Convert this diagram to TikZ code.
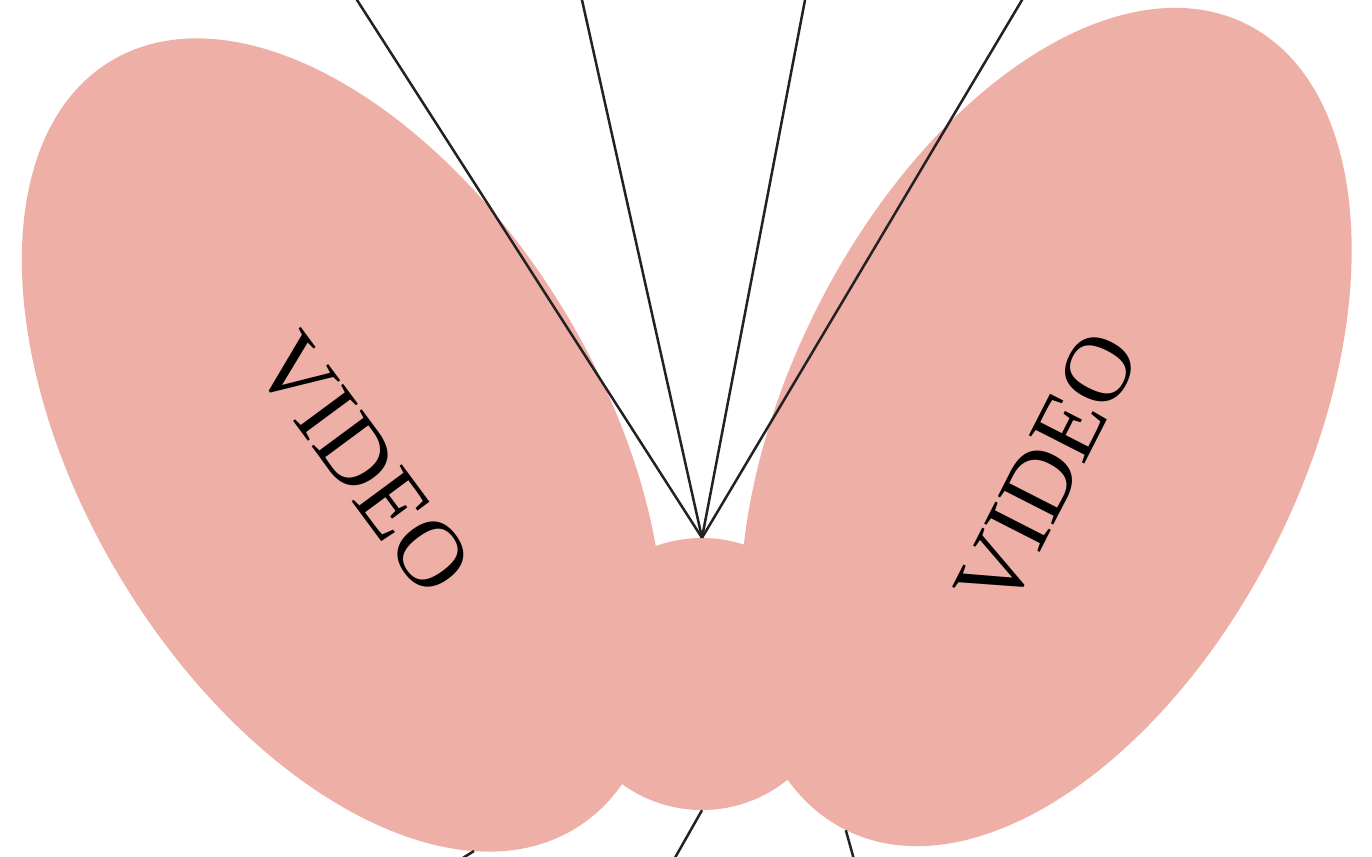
\documentclass[tikz,border=0pt]{standalone}
\usepackage{fontspec}
\setmainfont{Liberation Serif}
\usetikzlibrary{shapes.geometric}
\definecolor{petal}{RGB}{238,176,166}
\definecolor{stem}{RGB}{34,34,34}
\begin{document}
\begin{tikzpicture}[x=1pt,y=-1pt,
  petalshape/.style={ellipse, fill=petal, draw=none, inner sep=0pt},
  hubshape/.style={circle, fill=petal, draw=none, inner sep=0pt, minimum size=272pt},
  wordstyle/.style={font=\fontsize{95}{95}\selectfont, inner sep=0pt, text=black},
  link/.style={draw=stem, line width=2.5pt}]
\useasboundingbox (0,0) rectangle (1372,856);
\node[petalshape, minimum width=897pt, minimum height=518pt, rotate=-58.85] (left) at (342.7,445) {};
\node[petalshape, minimum width=900pt, minimum height=516pt, rotate=63.6] (right) at (1046,427) {};
\node[hubshape] (hub) at (702,674) {};
\node[wordstyle, rotate=-53.5] (lt) at (363,464) {VIDEO};
\node[wordstyle, rotate=63] (rt) at (1047,471) {VIDEO};
\coordinate (t1) at (357,0);
\coordinate (t2) at (582,0);
\coordinate (t3) at (805,0);
\coordinate (t4) at (1022,0);
\coordinate (b1) at (676,856);
\coordinate (b2) at (853,856);
\coordinate (f1) at (474,851);
\coordinate (f2) at (466,856);
\draw[link, shorten >=-10pt] (hub.north) -- (t1);
\draw[link, shorten >=-10pt] (hub.north) -- (t2);
\draw[link, shorten >=-10pt] (hub.north) -- (t3);
\draw[link, shorten >=-10pt] (hub.north) -- (t4);
\draw[link, shorten >=-10pt] (hub.south) -- (b1);
\draw[link, shorten >=-10pt] (right.west) -- (b2);
\draw[link, shorten >=-10pt] (f1) -- (f2);
\end{tikzpicture}
\end{document}
